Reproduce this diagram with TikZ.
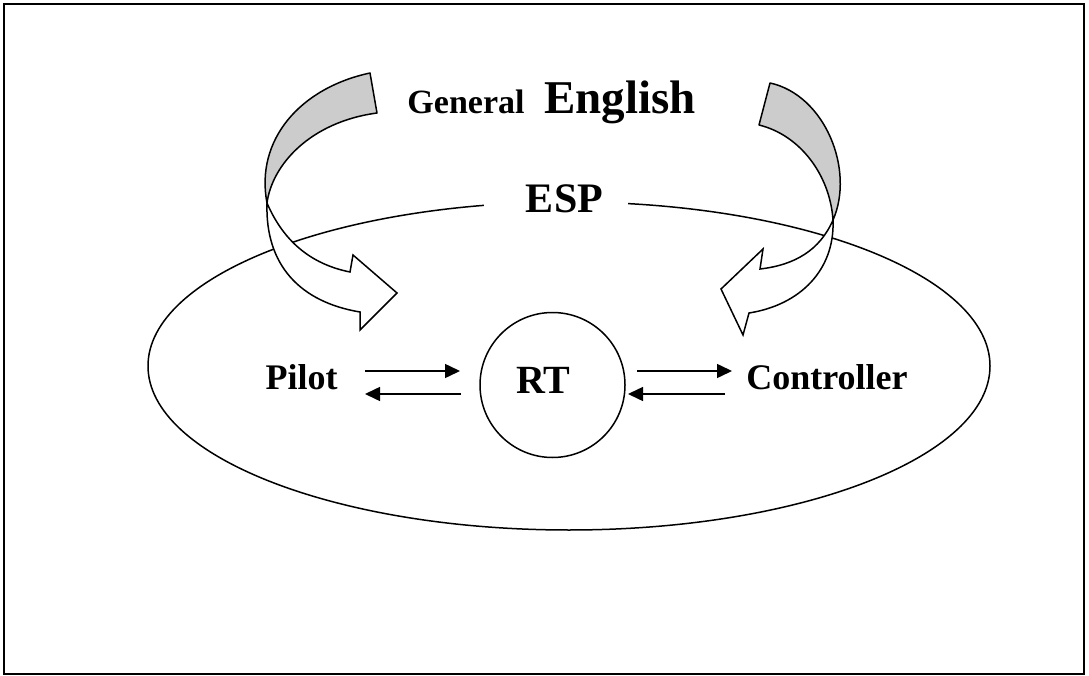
\documentclass[tikz,border=0pt]{standalone}
\usepackage{fontspec}
\setmainfont{Liberation Serif}
\usetikzlibrary{arrows.meta,shapes.geometric}

\tikzset{
  outline/.style={draw=black, line width=1.5pt},
  txt/.style={anchor=base, inner sep=0pt, text=black},
  band/.style={outline, line join=round, fill=gray!40},
  bandfront/.style={outline, line join=miter, fill=white},
  flow/.style={line width=1.5pt, -{Triangle[length=15pt,width=14pt]}},
}

\begin{document}
\begin{tikzpicture}[x=1pt,y=-1pt]
\useasboundingbox (0,0) rectangle (1089,676);

% outer frame
\draw[line width=2pt] (4,4) rectangle (1084,674);

% ESP domain
\node[outline, ellipse, minimum width=842pt, minimum height=328pt, inner sep=0pt] (espzone) at (569,366) {};
\node[fill=white, minimum width=144pt, minimum height=34pt, inner sep=0pt] (espgap) at (556,203) {};
\node[txt, font=\fontsize{42}{46}\selectfont\bfseries] (esp) at (564.5,213) {ESP};

% title
\node[txt, font=\fontsize{34}{38}\selectfont\bfseries] (general) at (466,114) {General};
\node[txt, font=\fontsize{47}{52}\selectfont\bfseries] (english) at (620,114) {English};

% left curved arrow: shaded back, then the white front with its head
\draw[band] (370,73) .. controls (300,88) and (255,140) .. (267,203)
  .. controls (272,165) and (310,122) .. (377,113) -- cycle;
\draw[bandfront] (267,203) .. controls (285,245) and (315,265) .. (350,272)
  -- (353,255) -- (397,293) -- (360,330) -- (360,312)
  .. controls (300,302) and (265,265) .. (267,203) -- cycle;

% right curved arrow
\draw[band] (770,83) .. controls (825,95) and (855,170) .. (833,220)
  .. controls (830,175) and (800,135) .. (759,125) -- cycle;
\draw[bandfront] (833,220) .. controls (820,250) and (795,265) .. (760,269)
  -- (763,249) -- (721,289) -- (743,335) -- (749,313)
  .. controls (800,305) and (835,270) .. (833,220) -- cycle;

% radiotelephony core
\node[outline, circle, minimum size=145pt, inner sep=0pt] (rtcircle) at (552.5,385) {};
\node[txt, font=\fontsize{40}{44}\selectfont\bfseries] (rt) at (543.5,393) {RT};

% speakers
\node[txt, font=\fontsize{36}{40}\selectfont\bfseries] (pilot) at (301.5,389) {Pilot};
\node[txt, font=\fontsize{36}{40}\selectfont\bfseries] (controller) at (827,389) {Controller};

% exchanges
\coordinate (pilotout) at (365,371);
\coordinate (rtinL) at (460,371);
\coordinate (rtoutL) at (461,394);
\coordinate (pilotin) at (365,394);
\coordinate (rtoutR) at (637,371);
\coordinate (ctrlin) at (732,371);
\coordinate (ctrlout) at (725,394);
\coordinate (rtinR) at (628,394);

\draw[flow] (pilotout) -- (rtinL);
\draw[flow] (rtoutL) -- (pilotin);
\draw[flow] (rtoutR) -- (ctrlin);
\draw[flow] (ctrlout) -- (rtinR);
\end{tikzpicture}
\end{document}
